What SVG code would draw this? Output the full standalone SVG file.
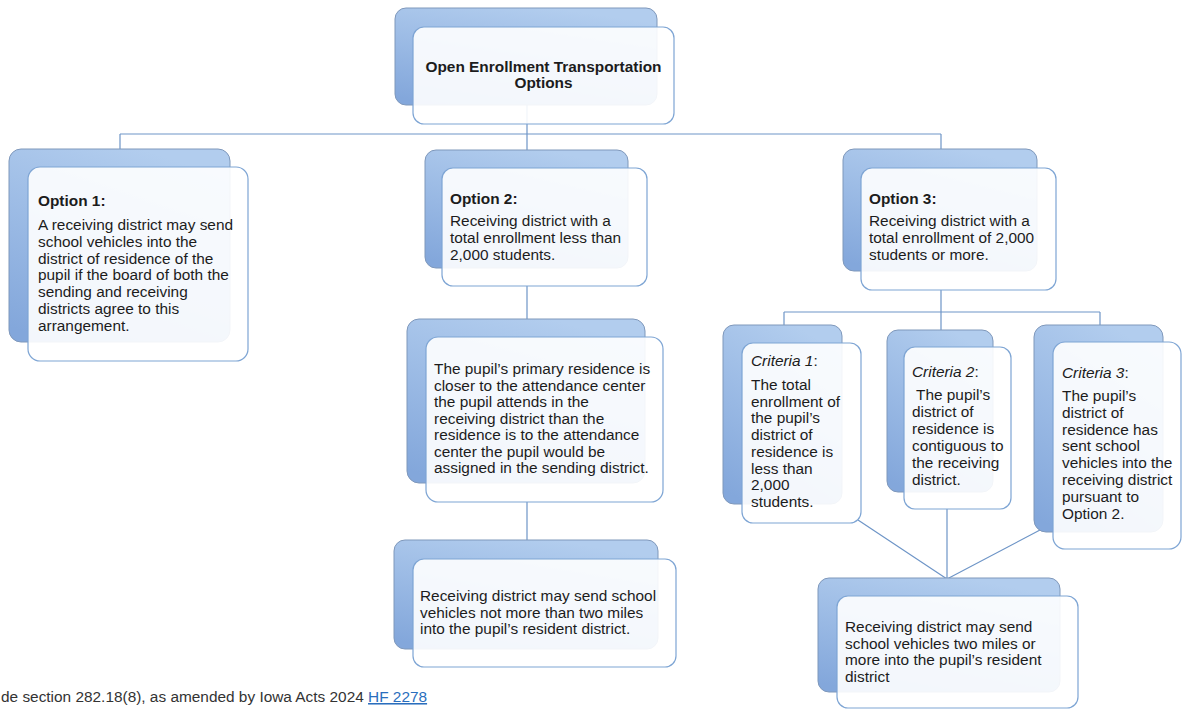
<svg xmlns="http://www.w3.org/2000/svg" width="1182" height="709" viewBox="0 0 1182 709">
<defs>
<linearGradient id="backGrad" x1="0.6" y1="0" x2="0.2" y2="1">
<stop offset="0" stop-color="#b2cdee"/>
<stop offset="1" stop-color="#83a7db"/>
</linearGradient>
</defs>
<style>
.back{fill:url(#backGrad);stroke:#7f98bb;stroke-width:1}
.front{fill:#ffffff;fill-opacity:0.9;stroke:#7ea5d4;stroke-width:1.2}
.conn{stroke:#6e95c7;stroke-width:1.2;fill:none}
text{font-family:"Liberation Sans",Arial,sans-serif;font-size:15.4px;fill:#1c1c1c}
.b{font-weight:bold}
.i{font-style:italic}
.c{text-anchor:middle}
</style>
<rect width="1182" height="709" fill="#ffffff"/>
<g id="connectors">
<path class="conn" d="M527 105 V134 M120 134 H941 M120 134 V149 M527 134 V150 M941 134 V149"/>
<path class="conn" d="M527 286 V319 M527 502 V540"/>
<path class="conn" d="M941 290 V330 M784 312 H1100 M784 312 V325 M1100 312 V325"/>
<path class="conn" d="M858 520 L947 579 M947 509 V579 M1040 530 L947 579"/>
</g>
<g id="node-top">
<rect class="back" x="395" y="8" width="262" height="97" rx="11"/>
<rect class="front" x="413" y="27" width="261" height="97" rx="11"/>
<text class="b c" x="543.5" y="72">Open Enrollment Transportation</text>
<text class="b c" x="543.5" y="88">Options</text>
</g>
<g id="node-option1">
<rect class="back" x="9" y="149" width="221" height="193" rx="12"/>
<rect class="front" x="28" y="167" width="220" height="194" rx="12"/>
<text class="b" x="38" y="206">Option 1:</text>
<text x="38" y="230">A receiving district may send</text>
<text x="38" y="246.8">school vehicles into the</text>
<text x="38" y="263.6">district of residence of the</text>
<text x="38" y="280.4">pupil if the board of both the</text>
<text x="38" y="297.2">sending and receiving</text>
<text x="38" y="314">districts agree to this</text>
<text x="38" y="330.8">arrangement.</text>
</g>
<g id="node-option2">
<rect class="back" x="425" y="150" width="203" height="118" rx="11"/>
<rect class="front" x="442" y="168" width="205" height="118" rx="11"/>
<text class="b" x="450" y="204">Option 2:</text>
<text x="450" y="226">Receiving district with a</text>
<text x="450" y="242.8">total enrollment less than</text>
<text x="450" y="259.6">2,000 students.</text>
</g>
<g id="node-option3">
<rect class="back" x="843" y="149" width="194" height="122" rx="11"/>
<rect class="front" x="861" y="168" width="195" height="122" rx="11"/>
<text class="b" x="869" y="204">Option 3:</text>
<text x="869" y="226">Receiving district with a</text>
<text x="869" y="242.8">total enrollment of 2,000</text>
<text x="869" y="259.6">students or more.</text>
</g>
<g id="node-closer">
<rect class="back" x="407" y="319" width="238" height="164" rx="12"/>
<rect class="front" x="426" y="337" width="237" height="165" rx="12"/>
<text x="434" y="374">The pupil’s primary residence is</text>
<text x="434" y="390.5">closer to the attendance center</text>
<text x="434" y="407">the pupil attends in the</text>
<text x="434" y="423.5">receiving district than the</text>
<text x="434" y="440">residence is to the attendance</text>
<text x="434" y="456.5">center the pupil would be</text>
<text x="434" y="473">assigned in the sending district.</text>
</g>
<g id="node-twomiles-max">
<rect class="back" x="394" y="540" width="264" height="109" rx="11"/>
<rect class="front" x="413" y="559" width="263" height="108" rx="11"/>
<text x="420" y="601">Receiving district may send school</text>
<text x="420" y="617.5">vehicles not more than two miles</text>
<text x="420" y="634">into the pupil’s resident district.</text>
</g>
<g id="node-criteria1">
<rect class="back" x="723" y="325" width="119" height="179" rx="11"/>
<rect class="front" x="742" y="343" width="119" height="180" rx="11"/>
<text x="751" y="366"><tspan class="i">Criteria 1</tspan>:</text>
<text x="751" y="390">The total</text>
<text x="751" y="406.7">enrollment of</text>
<text x="751" y="423.4">the pupil’s</text>
<text x="751" y="440.1">district of</text>
<text x="751" y="456.8">residence is</text>
<text x="751" y="473.5">less than</text>
<text x="751" y="490.2">2,000</text>
<text x="751" y="506.9">students.</text>
</g>
<g id="node-criteria2">
<rect class="back" x="887" y="330" width="106" height="162" rx="11"/>
<rect class="front" x="904" y="347" width="107" height="162" rx="11"/>
<text x="912" y="377"><tspan class="i">Criteria 2</tspan>:</text>
<text x="916" y="400">The pupil’s</text>
<text x="912" y="417">district of</text>
<text x="912" y="434">residence is</text>
<text x="912" y="451">contiguous to</text>
<text x="912" y="468">the receiving</text>
<text x="912" y="485">district.</text>
</g>
<g id="node-criteria3">
<rect class="back" x="1034" y="325" width="129" height="207" rx="12"/>
<rect class="front" x="1053" y="342" width="128" height="207" rx="12"/>
<text x="1062" y="378"><tspan class="i">Criteria 3</tspan>:</text>
<text x="1062" y="401">The pupil’s</text>
<text x="1062" y="417.8">district of</text>
<text x="1062" y="434.6">residence has</text>
<text x="1062" y="451.4">sent school</text>
<text x="1062" y="468.2">vehicles into the</text>
<text x="1062" y="485">receiving district</text>
<text x="1062" y="501.8">pursuant to</text>
<text x="1062" y="518.6">Option 2.</text>
</g>
<g id="node-twomiles-more">
<rect class="back" x="818" y="578" width="242" height="114" rx="11"/>
<rect class="front" x="837" y="596" width="241" height="112" rx="11"/>
<text x="845" y="632">Receiving district may send</text>
<text x="845" y="648.5">school vehicles two miles or</text>
<text x="845" y="665">more into the pupil’s resident</text>
<text x="845" y="681.5">district</text>
</g>
<g id="footer">
<text x="1" y="702" style="fill:#333333">de section 282.18(8), as amended by Iowa Acts 2024 <tspan style="fill:#2a6ebd;text-decoration:underline">HF 2278</tspan></text>
</g>
</svg>
